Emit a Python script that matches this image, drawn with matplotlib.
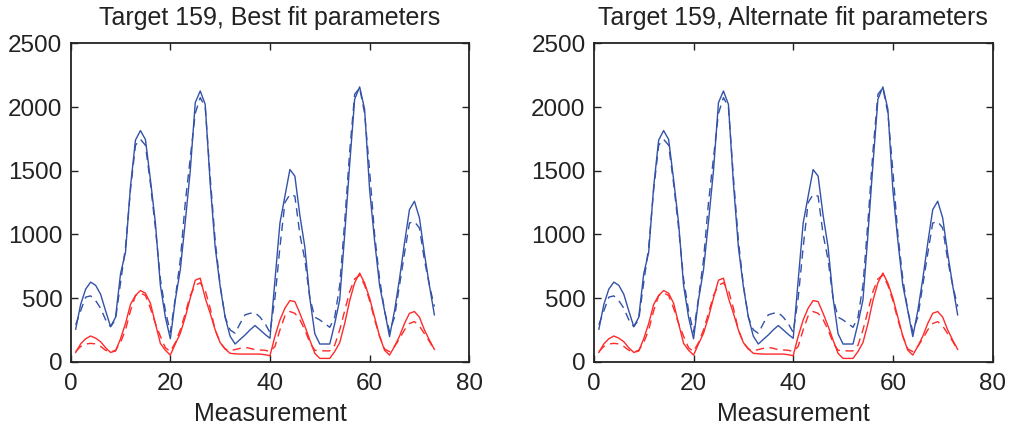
import matplotlib
matplotlib.use("Agg")
import matplotlib.pyplot as plt
import numpy as np

plt.rcParams['font.family'] = ['Liberation Sans', 'DejaVu Sans']

measurement = list(range(1, 74))

blue_solid = [255, 450, 570, 625, 600, 530, 400, 276, 348, 690,
              860, 1375, 1740, 1815, 1745, 1430, 1090, 600, 350, 180,
              486, 722, 1100, 1500, 2034, 2126, 2021, 1400, 900, 590,
              350, 200, 139, 175, 210, 250, 284, 250, 215, 184,
              640, 1089, 1300, 1509, 1457, 1150, 900, 500, 220, 139,
              139, 139, 300, 486, 1000, 1550, 2061, 2158, 1982, 1350,
              950, 600, 400, 197, 400, 650, 932, 1194, 1260, 1129,
              850, 600, 368]

blue_dashed = [290, 400, 507, 517, 480, 420, 330, 275, 330, 620,
               900, 1350, 1700, 1746, 1700, 1400, 1050, 650, 400, 230,
               500, 800, 1250, 1600, 1950, 2074, 2000, 1450, 950, 600,
               350, 250, 223, 300, 368, 380, 386, 350, 300, 230,
               500, 900, 1250, 1313, 1300, 1000, 800, 500, 350, 328,
               300, 270, 350, 600, 1100, 1650, 2100, 2150, 1950, 1500,
               1000, 650, 400, 236, 350, 600, 850, 1089, 1100, 1050,
               800, 600, 433]

red_solid = [73, 140, 180, 202, 185, 157, 110, 73, 84, 180,
             300, 450, 520, 559, 538, 459, 300, 144, 90, 52,
             140, 223, 350, 500, 640, 656, 500, 380, 250, 150,
             100, 66, 62, 60, 60, 60, 60, 60, 55, 47,
             200, 328, 420, 480, 472, 380, 280, 170, 66, 26,
             26, 26, 80, 150, 300, 480, 620, 696, 617, 500,
             350, 200, 90, 52, 120, 200, 300, 380, 394, 350,
             250, 170, 97]

red_dashed = [80, 120, 139, 144, 140, 120, 90, 75, 90, 150,
              250, 400, 520, 540, 520, 420, 300, 200, 110, 80,
              150, 250, 380, 520, 600, 620, 560, 420, 250, 150,
              100, 87, 95, 105, 113, 105, 95, 92, 90, 80,
              120, 250, 360, 394, 380, 330, 250, 150, 90, 87,
              85, 85, 130, 250, 400, 550, 650, 680, 600, 480,
              330, 200, 100, 79, 120, 180, 250, 300, 315, 280,
              220, 160, 92]

titles = ["Target 159, Best fit parameters", "Target 159, Alternate fit parameters"]
x_ticks = [0, 20, 40, 60, 80]
y_ticks = [0, 500, 1000, 1500, 2000, 2500]

BLUE = '#3352a8'
RED = '#ff2a2a'
TXT = '#222222'

fig = plt.figure(figsize=(10.10, 4.32), dpi=100)
positions = [[0.070, 0.1627, 0.3946, 0.737], [0.588, 0.1627, 0.3947, 0.737]]

for pos, title in zip(positions, titles):
    ax = fig.add_axes(pos)
    ax.plot(measurement, blue_solid, color=BLUE, lw=1.0)
    ax.plot(measurement, blue_dashed, color=BLUE, lw=1.0, dashes=(6, 4))
    ax.plot(measurement, red_solid, color=RED, lw=1.0)
    ax.plot(measurement, red_dashed, color=RED, lw=1.0, dashes=(6, 4))
    ax.set_xlim(0, 80)
    ax.set_ylim(0, 2500)
    ax.set_xticks(x_ticks)
    ax.set_yticks(y_ticks)
    ax.tick_params(direction='in', top=True, right=True, length=5, width=1,
                   labelsize=17.5, colors=TXT)
    ax.tick_params(axis='y', pad=6)
    ax.tick_params(axis='x', pad=8)
    for s in ax.spines.values():
        s.set_linewidth(1.3)
        s.set_color(TXT)
    ax.set_title(title, fontsize=18, color=TXT, pad=13)
    ax.set_xlabel("Measurement", fontsize=18, color=TXT, labelpad=5)

fig.savefig("out.png", dpi=100)
